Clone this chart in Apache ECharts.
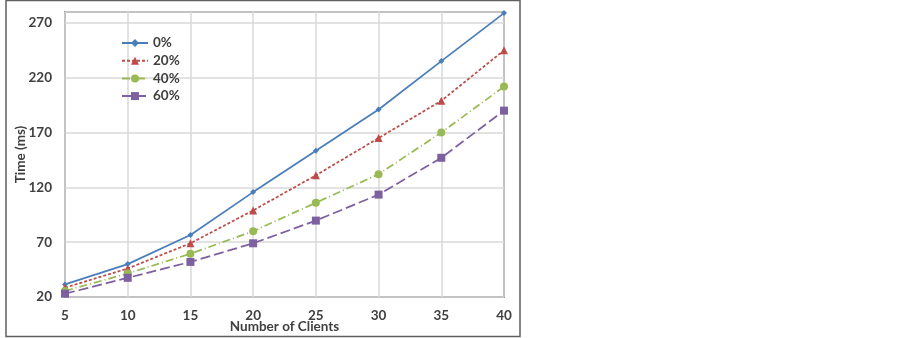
<!DOCTYPE html>
<html>
<head>
<meta charset="utf-8">
<script src="https://cdn.jsdelivr.net/npm/echarts@6/dist/echarts.min.js"></script>
<style>
  html, body { margin: 0; padding: 0; background: #fff; }
  #chart { width: 903px; height: 338px; }
</style>
</head>
<body>
<div id="chart"></div>
<script>
const clients = [5, 10, 15, 20, 25, 30, 35, 40]
const seriesNames = ['0%', '20%', '40%', '60%']
const time0 = [31.5, 50, 76.5, 115.7, 153.4, 191, 235.2, 279]
const time20 = [28.5, 46, 69, 99, 131, 165, 199, 245]
const time40 = [25.5, 41.5, 59.5, 80, 106, 132, 170, 212]
const time60 = [23, 37.5, 52, 69, 89.7, 113.4, 147, 190]

const colors = ['#4A7EBB', '#BE4B48', '#98B954', '#7D60A0']
const symbols = ['diamond', 'triangle', 'circle', 'rect']
const symbolSizes = [6, 8, 8, 8]
const dashes = ['solid', [3, 2], [8, 3, 1, 3], [10, 4]]
const allValues = [time0, time20, time40, time60]

const font = 'Lato, "Open Sans", sans-serif'
const textStyle = { fontFamily: font, fontWeight: 'bold', fontSize: 13.5, color: '#404040' }

const chart = echarts.init(document.getElementById('chart'))

chart.setOption({
  animation: false,
  graphic: [{
    type: 'rect',
    shape: { x: 6, y: 0.5, width: 514, height: 336 },
    style: { fill: 'none', stroke: '#5f5f5f', lineWidth: 1.5 },
    silent: true
  }],
  grid: {
    left: 65, right: 399, top: 12, bottom: 41,
    outerBoundsMode: 'none',
    show: true, borderColor: '#595959', borderWidth: 1.5
  },
  legend: {
    orient: 'vertical',
    left: 121, top: 36, padding: 0,
    itemWidth: 26, itemHeight: 10, itemGap: 3.7,
    textStyle,
    data: seriesNames
  },
  xAxis: {
    type: 'value',
    min: 5, max: 40, interval: 5,
    name: 'Number of Clients',
    nameLocation: 'middle', nameGap: 23, nameMoveOverlap: false,
    nameTextStyle: textStyle,
    axisLine: { show: false },
    axisTick: { show: false },
    axisLabel: Object.assign({ margin: 12 }, textStyle),
    splitLine: { show: true, lineStyle: { color: '#d9d9d9', width: 1.5 } }
  },
  yAxis: {
    type: 'value',
    min: 20, max: 280, interval: 50,
    name: 'Time (ms)',
    nameLocation: 'middle', nameGap: 37, nameMoveOverlap: false,
    nameTextStyle: textStyle,
    axisLine: { show: false },
    axisTick: { show: false },
    axisLabel: Object.assign({
      margin: 13,
      formatter: v => ((v - 20) % 50 === 0 ? String(v) : '')
    }, textStyle),
    splitLine: { show: true, lineStyle: { color: '#d9d9d9', width: 1.5 } }
  },
  series: seriesNames.map((name, i) => ({
    name,
    type: 'line',
    data: clients.map((c, j) => [c, allValues[i][j]]),
    symbol: symbols[i],
    symbolSize: symbolSizes[i],
    showAllSymbol: true,
    itemStyle: { color: colors[i] },
    lineStyle: { color: colors[i], width: 1.75, type: dashes[i] }
  }))
})
</script>
</body>
</html>
